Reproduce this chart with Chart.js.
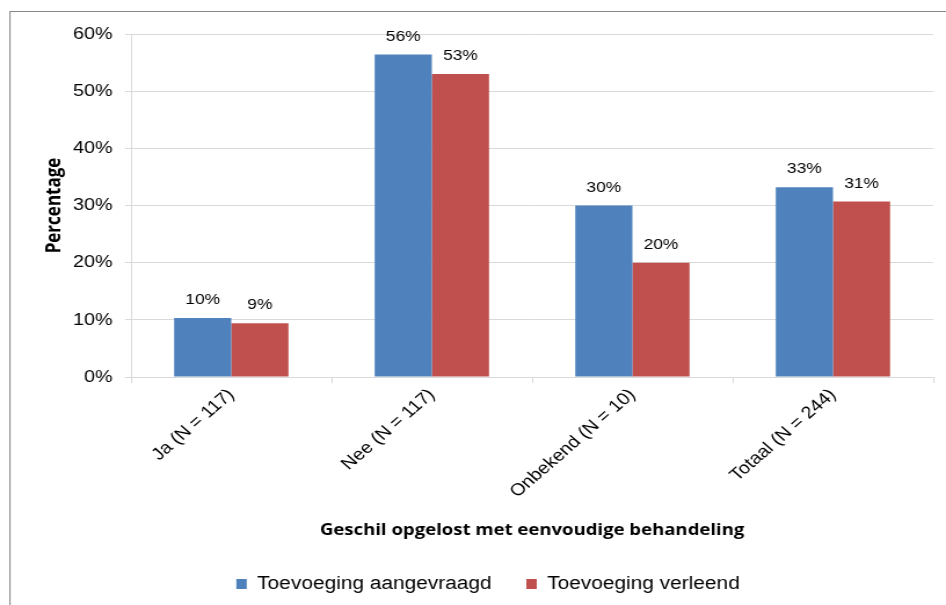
<!DOCTYPE html>
<html>
<head>
<meta charset="utf-8">
<script src="https://cdn.jsdelivr.net/npm/chart.js@4.4.1/dist/chart.umd.min.js"></script>
<style>
  html, body { margin: 0; padding: 0; background: #fff; overflow: hidden; }
  #wrap { width: 816px; height: 605px; transform: scaleX(1.1593); transform-origin: 0 0; }
</style>
</head>
<body>
<div id="wrap"><canvas id="chart"></canvas></div>
<script>
const categories = ["Ja (N = 117)", "Nee (N = 117)", "Onbekend (N = 10)", "Totaal (N = 244)"];
const aangevraagd = [10.3, 56.4, 30.0, 33.2];
const verleend = [9.4, 53.0, 20.0, 30.7];
const yTicks = [0, 10, 20, 30, 40, 50, 60];

const frame = {
    id: 'frame',
    beforeDraw(chart) {
        const ctx = chart.ctx;
        ctx.save();
        ctx.strokeStyle = '#868686';
        ctx.lineWidth = 1;
        ctx.strokeRect(8.6, 11.5, chart.width + 20, chart.height + 20);
        ctx.restore();
    }
};

const barLabels = {
    id: 'barLabels',
    afterDatasetsDraw(chart) {
        const ctx = chart.ctx;
        ctx.save();
        ctx.font = '15px "Liberation Sans", Arial, sans-serif';
        ctx.fillStyle = '#000';
        ctx.textAlign = 'center';
        ctx.textBaseline = 'middle';
        chart.data.datasets.forEach((ds, i) => {
            chart.getDatasetMeta(i).data.forEach((bar, j) => {
                ctx.fillText(Math.round(ds.data[j]) + '%', bar.x, bar.y - 18);
            });
        });
        ctx.restore();
    }
};

const ctx = document.getElementById('chart').getContext('2d');
new Chart(ctx, {
    type: 'bar',
    data: {
        labels: categories,
        datasets: [
            { label: 'Toevoeging aangevraagd', data: aangevraagd, backgroundColor: '#4F81BD' },
            { label: 'Toevoeging verleend', data: verleend, backgroundColor: '#C0504D' }
        ]
    },
    options: {
        responsive: true,
        maintainAspectRatio: false,
        animation: false,
        datasets: { bar: { categoryPercentage: 0.57, barPercentage: 1.0 } },
        layout: { padding: { left: 37, right: 11, top: 34, bottom: 2 } },
        plugins: {
            legend: {
                position: 'bottom',
                labels: {
                    boxWidth: 9,
                    boxHeight: 10,
                    padding: 30,
                    color: '#000',
                    font: { family: '"Liberation Sans", Arial, sans-serif', size: 18 }
                }
            },
            tooltip: { enabled: false }
        },
        scales: {
            x: {
                grid: { display: true, drawOnChartArea: false, color: '#d9d9d9', tickLength: 6, offset: true },
                border: { color: '#d9d9d9' },
                ticks: {
                    minRotation: 45, maxRotation: 45, padding: 2, color: '#000',
                    font: { family: '"Liberation Sans", Arial, sans-serif', size: 17 }
                },
                title: {
                    display: true,
                    text: 'Geschil opgelost met eenvoudige behandeling',
                    color: '#000',
                    font: { family: '"Open Sans", sans-serif', size: 16, weight: 'bold' },
                    padding: { top: 0, bottom: 5 }
                },
                afterFit(scale) { scale.height = 168; }
            },
            y: {
                min: 0,
                max: 60,
                afterBuildTicks(scale) { scale.ticks = yTicks.map(v => ({ value: v })); },
                grid: { color: '#d9d9d9', tickLength: 5 },
                border: { color: '#d9d9d9' },
                ticks: {
                    padding: 11, color: '#000',
                    font: { family: '"Liberation Sans", Arial, sans-serif', size: 17 },
                    callback: v => v + '%'
                },
                title: {
                    display: true,
                    text: 'Percentage',
                    color: '#000',
                    font: { family: '"Open Sans", sans-serif', size: 17, weight: 'bold' },
                    padding: { top: 0, bottom: 0 }
                },
                afterFit(scale) { scale.width = 76; }
            }
        }
    },
    plugins: [frame, barLabels]
});
</script>
</body>
</html>
